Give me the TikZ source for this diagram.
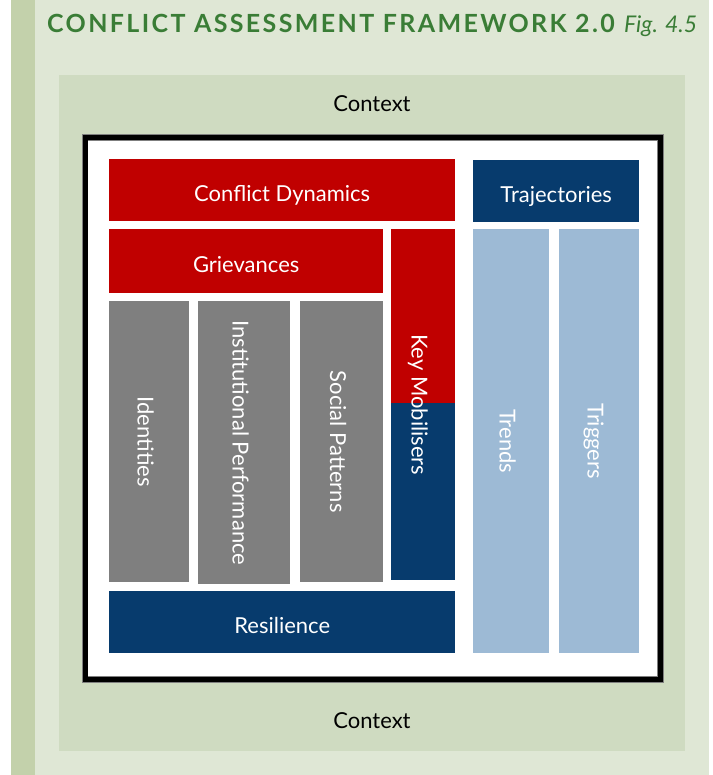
\documentclass[tikz,border=0pt]{standalone}
\usepackage{fontspec}
\setmainfont{Lato}
\usetikzlibrary{positioning}
\definecolor{cafred}{RGB}{192,0,0}
\definecolor{cafblue}{RGB}{7,59,109}
\definecolor{cafgrey}{RGB}{127,127,127}
\definecolor{caflight}{RGB}{157,186,213}
\definecolor{cafstrip}{RGB}{195,209,171}
\definecolor{cafpage}{RGB}{223,231,213}
\definecolor{cafpanel}{RGB}{207,219,193}
\definecolor{caftitle}{RGB}{58,125,54}

\begin{document}
\begin{tikzpicture}[x=1pt, y=-1pt,
    block/.style={anchor=north west, inner sep=0pt, text=white, align=center,
                  text height=23pt, text depth=0pt,
                  font=\fontsize{22}{26}\selectfont},
    upright/.style={block, rotate=-90, anchor=center}]
    \useasboundingbox (0,0) rectangle (712,775);

    % page and context panel
    \fill [white] (0,0) rectangle (712,775);
    \fill [cafpage] (35,0) rectangle (709,775);
    \fill [cafstrip] (11,0) rectangle (35,775);
    \fill [cafpanel] (59,75) rectangle (685,751);

    % title
    \node [anchor=base west, inner sep=0pt, text=caftitle, font=\fontsize{25}{28}\selectfont\bfseries\addfontfeatures{LetterSpace=9.5}] (title) at (47,33) {CONFLICT ASSESSMENT FRAMEWORK 2.0};
    \node [inner sep=0pt, text=caftitle, font=\fontsize{23}{26}\selectfont\itshape, right=9pt of title.base east, anchor=base west] (fig) {Fig. 4.5};

    \node [font=\fontsize{22}{26}\selectfont] (ctxtop) at (372,104) {Context};
    \node [font=\fontsize{22}{26}\selectfont] (ctxbot) at (372,721) {Context};

    % frame
    \draw [cafgrey, line width=6.5pt, fill=white] (85,137.5) rectangle (660.5,679.5);
    \draw [black, line width=5pt] (85,137.5) rectangle (660.5,679.5);

    % rows
    \node [block, fill=cafred, minimum width=346, minimum height=62] (dynamics) at (109,159) {Conflict Dynamics};
    \node [block, fill=cafblue, minimum width=166, minimum height=62] (trajectories) at (473,160) {Trajectories};
    \node [block, fill=cafred, minimum width=274, minimum height=64] (grievances) at (109,229) {Grievances};
    \node [block, fill=cafblue, minimum width=346, minimum height=62] (resilience) at (109,591) {Resilience};

    % columns
    \node [block, fill=cafgrey, minimum width=80, minimum height=281] (identities) at (109,301) {};
    \node [block, fill=cafgrey, minimum width=92, minimum height=283] (institutions) at (198,301) {};
    \node [block, fill=cafgrey, minimum width=83, minimum height=281] (social) at (300,301) {};
    \node [block, fill=cafblue, minimum width=64, minimum height=351] (mobilisers) at (391,229) {};
    \fill [cafred] (mobilisers.north west) rectangle (455,403);
    \node [block, fill=caflight, minimum width=76, minimum height=424] (trends) at (473,229) {};
    \node [block, fill=caflight, minimum width=80, minimum height=424] (triggers) at (559,229) {};

    \node [upright] at (identities.center) {Identities};
    \node [upright] at (institutions.center) {Institutional Performance};
    \node [upright] at (social.center) {Social Patterns};
    \node [upright] at (mobilisers.center) {Key Mobilisers};
    \node [upright] at (trends.center) {Trends};
    \node [upright] at (triggers.center) {Triggers};
\end{tikzpicture}
\end{document}
